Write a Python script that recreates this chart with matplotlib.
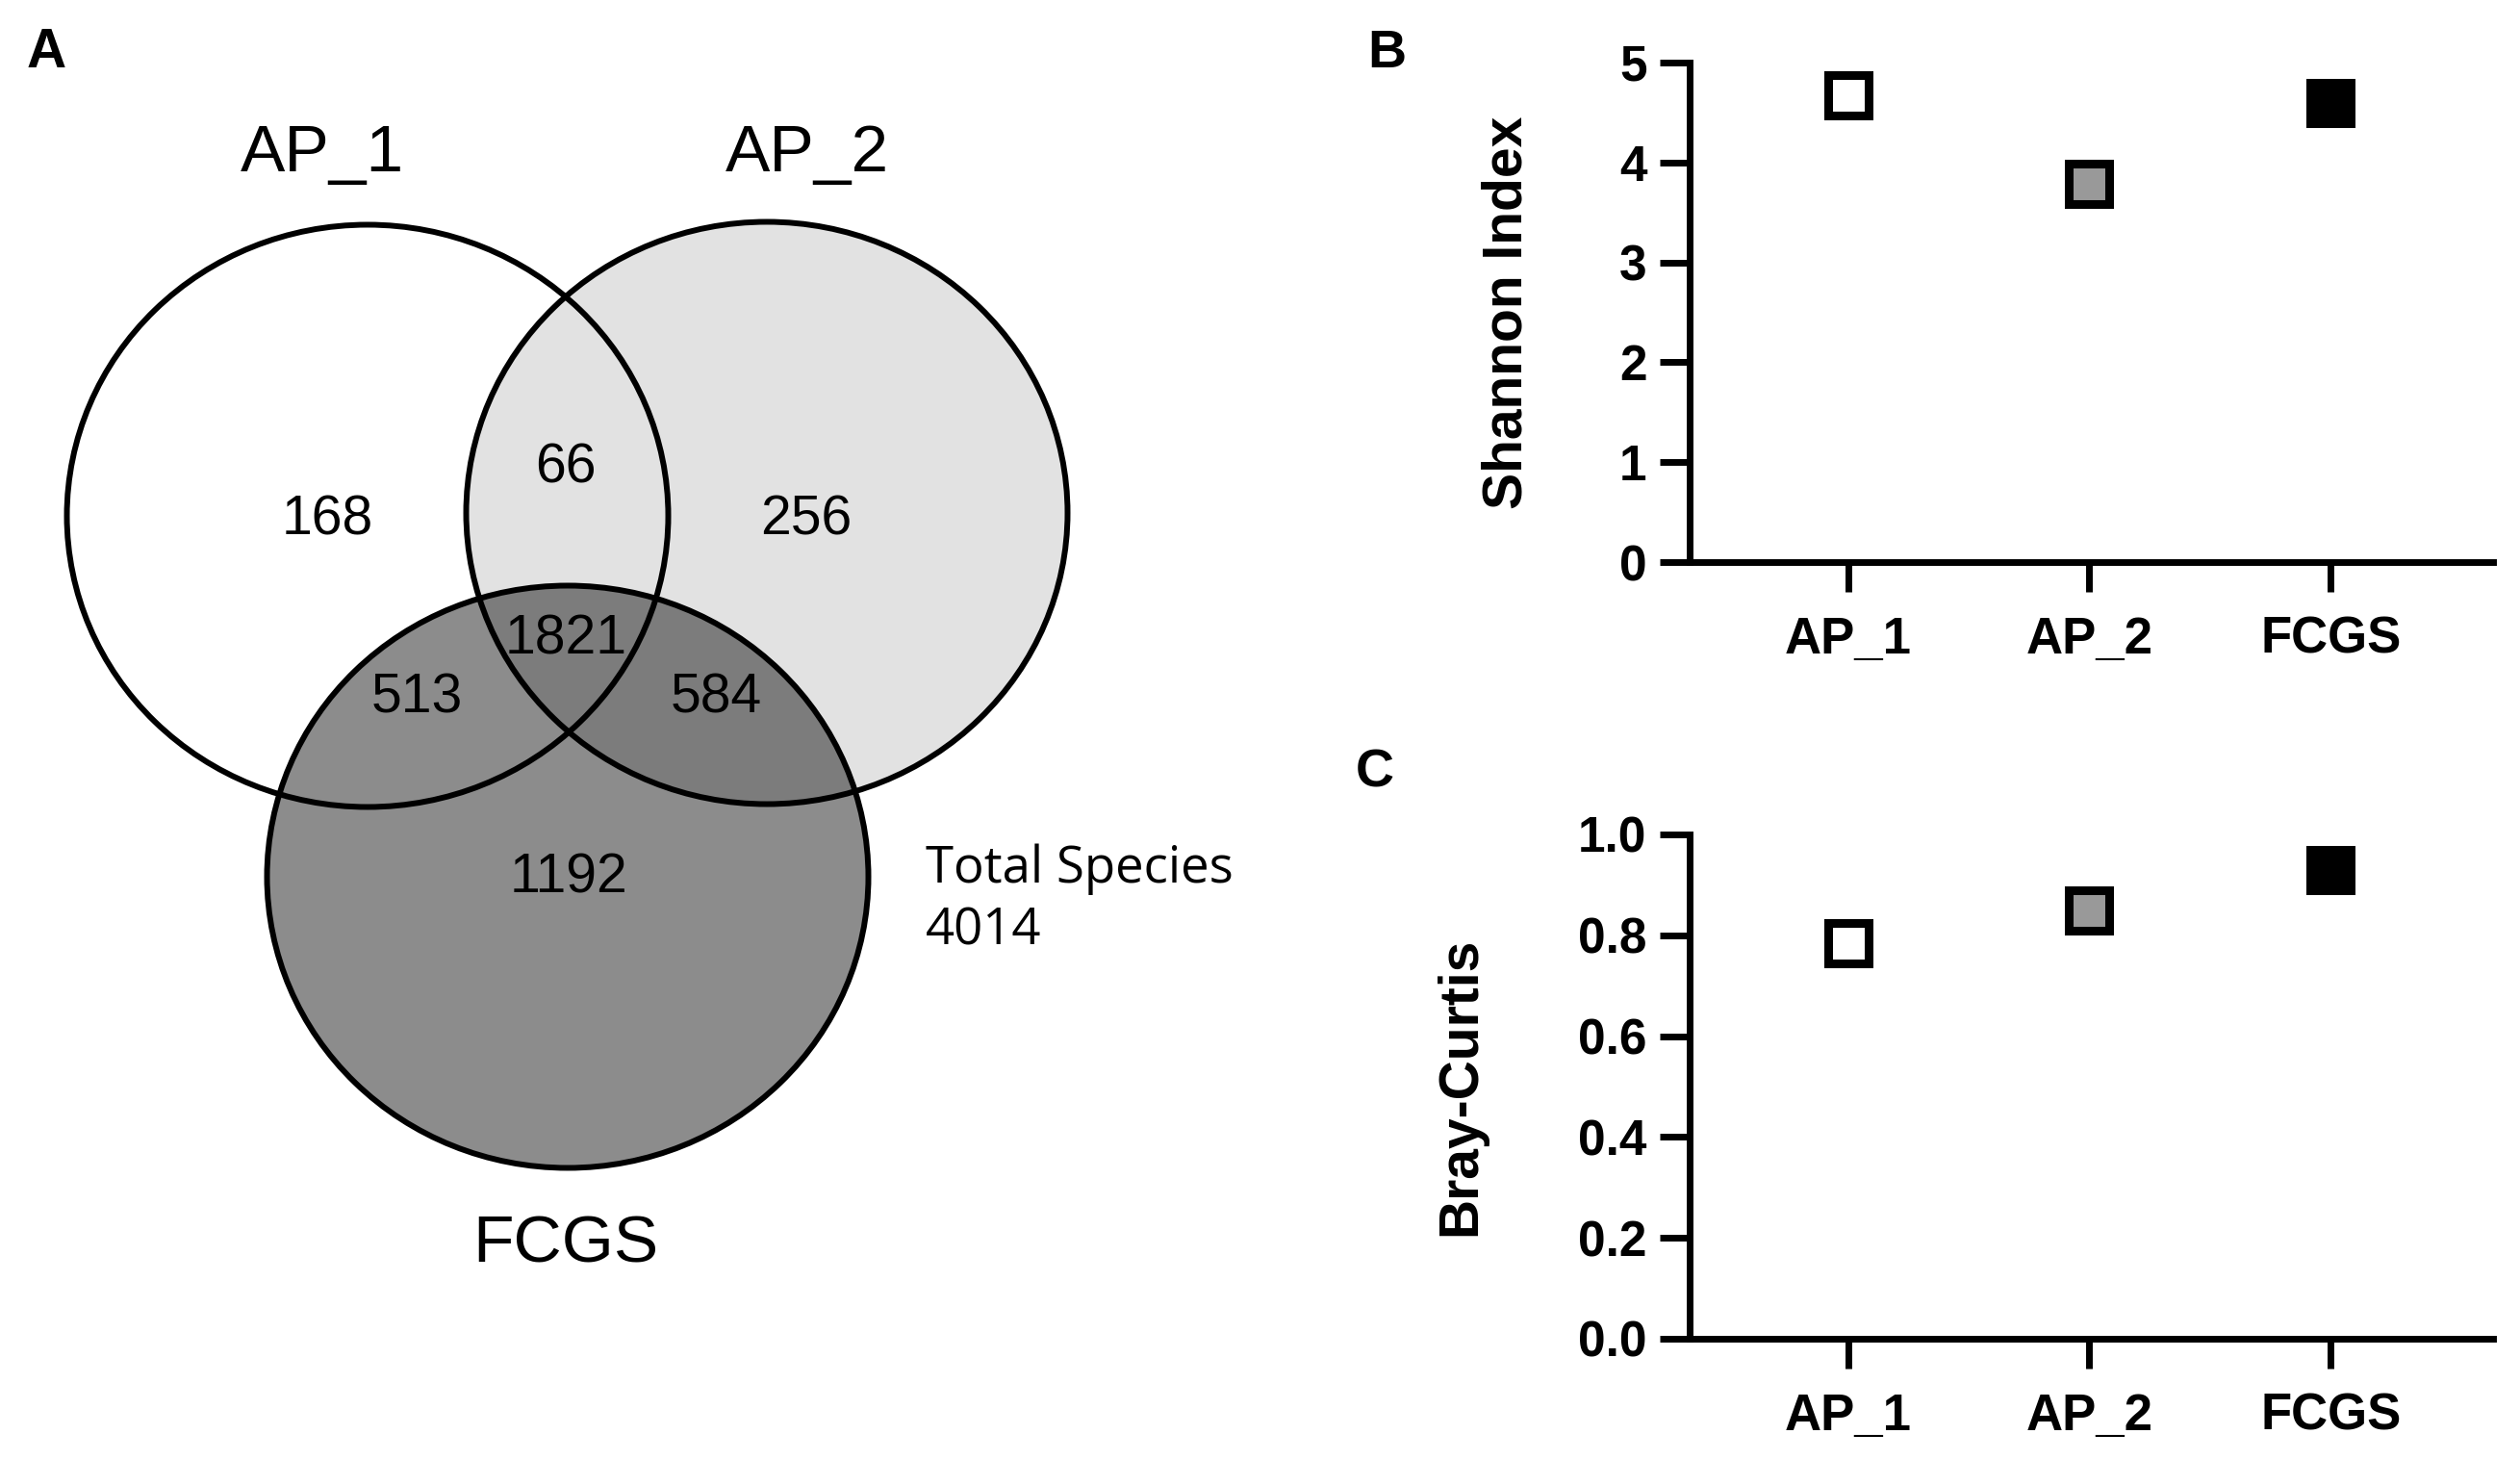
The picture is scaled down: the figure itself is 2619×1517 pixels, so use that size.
import matplotlib.pyplot as plt
from matplotlib.patches import Ellipse

# data
groups = ['AP_1', 'AP_2', 'FCGS']
shannon = [4.67, 3.79, 4.60]
bray_curtis = [0.785, 0.85, 0.93]

venn_regions = ['AP_1', 'AP_1&AP_2', 'AP_2', 'all', 'AP_1&FCGS', 'AP_2&FCGS', 'FCGS']
venn_counts = [168, 66, 256, 1821, 513, 584, 1192]
total_species = 4014

# layout (pixel coords of the venn panel)
circle_xy = {'AP_1': (382, 536), 'AP_2': (797, 533), 'FCGS': (590, 911)}
circle_r = (625, 605)
circle_fill = {'AP_1': 'white', 'AP_2': '#e2e2e2', 'FCGS': (0, 0, 0, 0.45)}
title_xy = {'AP_1': (335, 160), 'AP_2': (839, 160), 'FCGS': (588, 1294)}
region_xy = {'AP_1': (340, 540), 'AP_1&AP_2': (588, 486), 'AP_2': (838, 540),
             'all': (588, 664), 'AP_1&FCGS': (433, 725), 'AP_2&FCGS': (744, 725),
             'FCGS': (591, 912)}
marker_fill = ['white', '#999999', 'black']

W, H = 2619, 1517
fig = plt.figure(figsize=(W / 100, H / 100), dpi=100)

venn_font = 'Liberation Sans'

# ---- A: venn ----
ax_v = fig.add_axes([0, 0, 1350 / W, 1])
ax_v.set_xlim(0, 1350)
ax_v.set_ylim(H, 0)
ax_v.axis('off')

for g in groups:
    ax_v.add_patch(Ellipse(circle_xy[g], circle_r[0], circle_r[1],
                           facecolor=circle_fill[g], edgecolor='none'))
for g in groups:
    ax_v.add_patch(Ellipse(circle_xy[g], circle_r[0], circle_r[1],
                           facecolor='none', edgecolor='black', linewidth=4.3))
    ax_v.text(*title_xy[g], g, fontsize=50, family=venn_font,
              ha='center', va='center')

for reg, n in zip(venn_regions, venn_counts):
    ax_v.text(*region_xy[reg], str(n), fontsize=41, family=venn_font,
              ha='center', va='center')

ax_v.text(962, 903, 'Total Species', fontsize=38, family='Open Sans', ha='left', va='center')
ax_v.text(962, 968, str(total_species), fontsize=38, family='Open Sans', ha='left', va='center')
ax_v.text(48, 55, 'A', fontsize=41, family='Liberation Sans', fontweight='bold',
          ha='center', va='center')


def dot_panel(rect, values, ylim, yticks, fmt, ylabel, label_x, letter, letter_xy):
    ax = fig.add_axes(rect)
    x = range(len(groups))
    for xi, v, fc in zip(x, values, marker_fill):
        ax.plot(xi, v, marker='s', markersize=30, markerfacecolor=fc,
                markeredgecolor='black', markeredgewidth=6.5, linestyle='none',
                clip_on=False)
    ax.set_xlim(-0.656, 2.672)
    ax.set_ylim(*ylim)
    ax.set_yticks(yticks)
    ax.set_yticklabels([fmt.format(t) for t in yticks])
    ax.set_xticks(list(x))
    ax.set_xticklabels(groups)
    for s in ['top', 'right']:
        ax.spines[s].set_visible(False)
    for s in ['left', 'bottom']:
        ax.spines[s].set_linewidth(5)
    ax.tick_params(axis='both', width=5, length=22, labelsize=37)
    ax.tick_params(axis='x', pad=18, labelsize=38)
    ax.tick_params(axis='y', pad=10)
    for lab in ax.get_xticklabels() + ax.get_yticklabels():
        lab.set_fontweight('bold')
        lab.set_family('Liberation Sans')
    ax.set_ylabel(ylabel, fontsize=41, fontweight='bold', family='Liberation Sans')
    ax.yaxis.set_label_coords(label_x, 0.5)
    fig.text(letter_xy[0] / W, 1 - letter_xy[1] / H, letter, fontsize=40,
             fontweight='bold', family='Liberation Sans', ha='center', va='center')
    return ax


dot_panel([1756 / W, 1 - 584 / H, (2591 - 1756) / W, (584 - 65) / H],
          shannon, (0, 5), [0, 1, 2, 3, 4, 5], '{:.0f}', 'Shannon Index', -0.195,
          'B', (1441, 56))
dot_panel([1756 / W, 1 - 1391 / H, (2591 - 1756) / W, (1391 - 867) / H],
          bray_curtis, (0, 1), [0, 0.2, 0.4, 0.6, 0.8, 1.0], '{:.1f}', 'Bray-Curtis', -0.252,
          'C', (1429, 803))

fig.savefig('out.png', dpi=100, facecolor='white')
